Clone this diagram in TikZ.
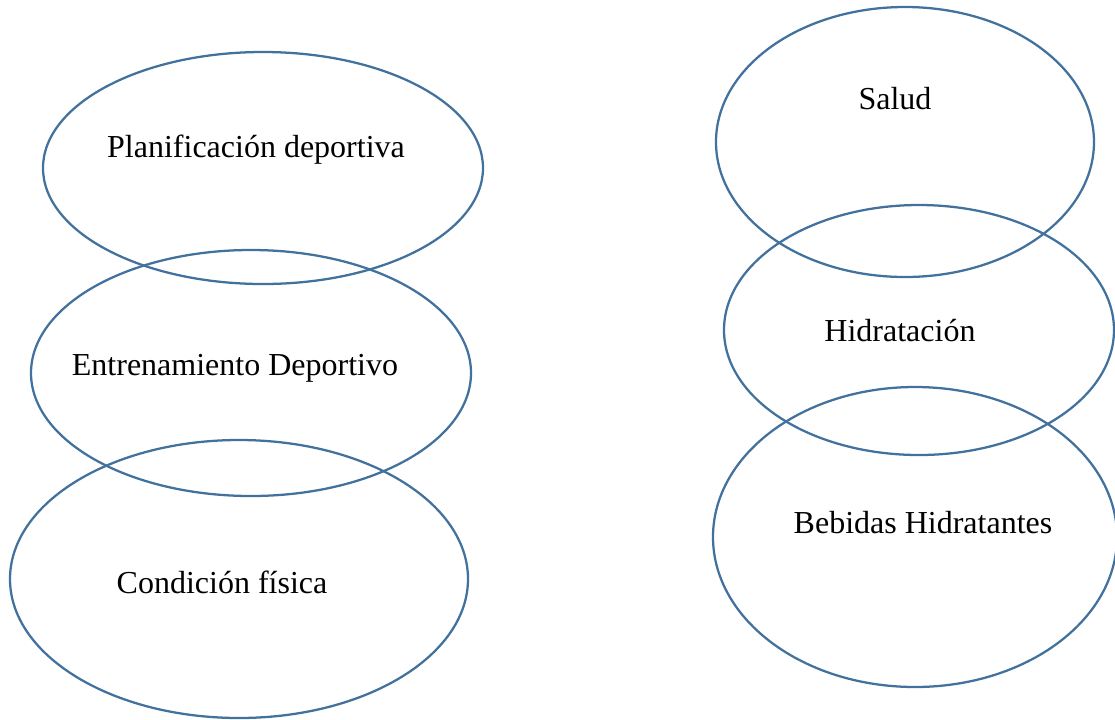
\documentclass[tikz,border=0pt]{standalone}
\usepackage{fontspec}
\setmainfont{Liberation Serif}
\definecolor{outl}{HTML}{41719C}
\begin{document}
\begin{tikzpicture}[x=0.75pt,y=-0.75pt,
  oval/.style={draw=outl,line width=1.7pt},
  lbl/.style={font=\fontsize{24}{28}\selectfont,inner sep=0pt,text=black}]
\useasboundingbox (0,0) rectangle (1115,719);
\draw[oval] (263,168) ellipse (220 and 116);
\draw[oval] (251,373) ellipse (220 and 123);
\draw[oval] (239,579) ellipse (229 and 139);
\draw[oval] (905,142) ellipse (189 and 135);
\draw[oval] (919,330) ellipse (195 and 125);
\draw[oval] (915,537) ellipse (202 and 150);
\node[lbl] (plan) at (256,150) {Planificación deportiva};
\node[lbl] (entr) at (235,368) {Entrenamiento Deportivo};
\node[lbl] (cond) at (222,582) {Condición física};
\node[lbl] (salud) at (895,99) {Salud};
\node[lbl] (hidr) at (900,331) {Hidratación};
\node[lbl] (beb) at (923,523) {Bebidas Hidratantes};
\end{tikzpicture}
\end{document}
